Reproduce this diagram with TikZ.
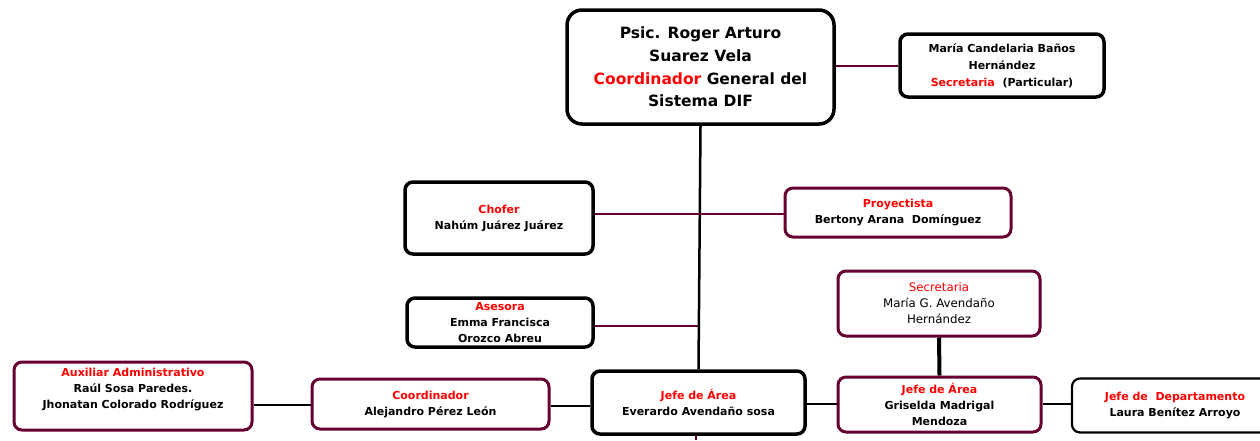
\documentclass[tikz,border=0pt]{standalone}
\usepackage{fontspec}
\setmainfont{DejaVu Sans}
\definecolor{maroon}{RGB}{102,0,51}
\definecolor{tred}{RGB}{255,0,0}
\begin{document}
\begin{tikzpicture}[x=1pt,y=-1pt,
  txt/.style={align=center,inner sep=0pt,font=\bfseries\fontsize{11}{16}\selectfont},
  box/.style={draw=black,line width=3.5pt,rounded corners=8pt,fill=white,txt},
  mbox/.style={box,draw=maroon,line width=3pt},
  mline/.style={draw=maroon,line width=2pt},
  bline/.style={draw=black,line width=2.5pt}]
\useasboundingbox (0,0) rectangle (1260,440);
\coordinate (bottom) at (696,440);
\node[box,rounded corners=15pt,minimum width=267pt,minimum height=114pt,font=\bfseries\fontsize{15.5}{22.7}\selectfont] (top) at (700.5,67) {Psic. Roger Arturo\\Suarez Vela\\\textcolor{tred}{Coordinador} General del\\Sistema DIF};
\node[box,minimum width=204pt,minimum height=63pt,font=\bfseries\fontsize{11}{17}\selectfont] (secp) at (1002,65.5) {María Candelaria Baños\\Hernández\\\textcolor{tred}{Secretaria}\ \ (Particular)};
\node[box,minimum width=188pt,minimum height=72pt] (chofer) at (499,218) {\textcolor{tred}{Chofer}\\Nahúm Juárez Juárez};
\node[mbox,minimum width=226pt,minimum height=49pt] (proy) at (898,212.5) {\textcolor{tred}{Proyectista}\\Bertony Arana\ \ Domínguez};
\node[box,minimum width=186pt,minimum height=49pt] (ases) at (500,322.5) {\textcolor{tred}{Asesora}\\Emma Francisca\\Orozco Abreu};
\node[mbox,minimum width=202pt,minimum height=65pt,font=\fontsize{11.8}{16}\selectfont] (secm) at (939,303.5) {\textcolor{tred}{Secretaria}\\María G. Avendaño\\Hernández};
\node[mbox,minimum width=238pt,minimum height=68pt,label={[txt,yshift=6.5pt]center:\textcolor{tred}{Auxiliar Administrativo}\\Raúl Sosa Paredes.\\Jhonatan Colorado Rodríguez}] (aux) at (133,396) {};
\node[mbox,minimum width=237pt,minimum height=50pt] (coord) at (430.5,404) {\textcolor{tred}{Coordinador}\\Alejandro Pérez León};
\node[box,minimum width=213pt,minimum height=63pt] (jefe1) at (698.5,402.5) {\textcolor{tred}{Jefe de Área}\\Everardo Avendaño sosa};
\node[mbox,minimum width=203pt,minimum height=55pt] (jefe2) at (939.5,404.5) {\textcolor{tred}{Jefe de Área}\\Griselda Madrigal\\Mendoza};
\node[box,line width=2.2pt,minimum width=206pt,minimum height=54pt] (depto) at (1175,405.5) {\textcolor{tred}{Jefe de\ \ Departamento}\\Laura Benítez Arroyo};
\draw[bline] (top.south) -- (jefe1.north);
\draw[mline] (top.east |- secp.west) -- (secp.west);
\draw[mline] (chofer.east |- 0,214) -- (proy.west |- 0,214);
\draw[mline] (ases.east |- 0,326) -- (698,326);
\draw[draw=black,line width=4pt] (secm.south) -- (jefe2.north);
\draw[bline] (aux.east |- 0,405) -- (coord.west |- 0,405);
\draw[bline] (coord.east |- 0,406) -- (jefe1.west |- 0,406);
\draw[bline] (jefe1.east |- 0,404) -- (jefe2.west |- 0,404);
\draw[bline] (jefe2.east |- 0,404) -- (depto.west |- 0,404);
\draw[mline] (jefe1.south -| bottom) -- (bottom);
\end{tikzpicture}
\end{document}
